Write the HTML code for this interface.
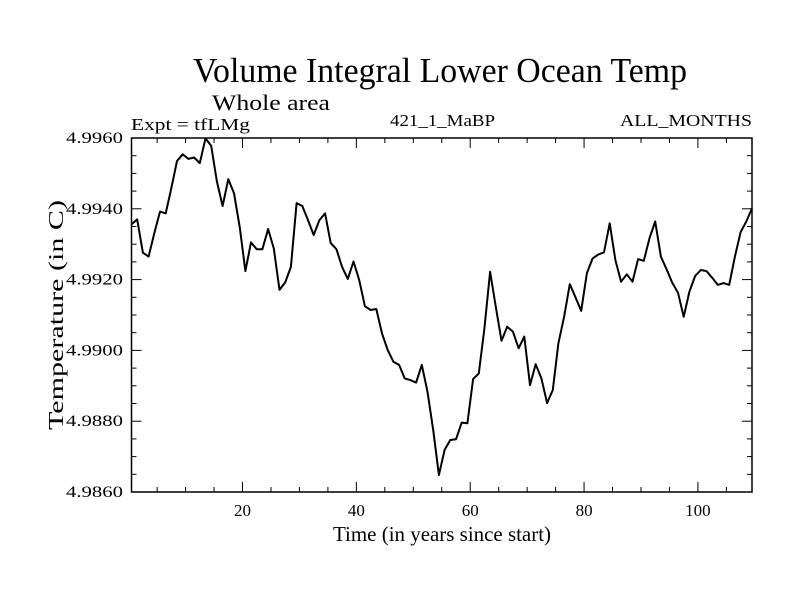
<!DOCTYPE html>
<html><head><meta charset="utf-8"><style>
html,body{margin:0;padding:0;background:#fff;}
svg{display:block;font-family:"Liberation Serif",serif;}
</style></head><body>
<svg id="chart" width="800" height="600" viewBox="0 0 800 600" xmlns="http://www.w3.org/2000/svg">
<text x="440" y="82" font-size="35" text-anchor="middle" textLength="494" lengthAdjust="spacingAndGlyphs">Volume Integral Lower Ocean Temp</text>
<text x="212" y="110" font-size="22" textLength="118" lengthAdjust="spacingAndGlyphs">Whole area</text>
<text x="131" y="130" font-size="17" textLength="119" lengthAdjust="spacingAndGlyphs">Expt = tfLMg</text>
<text x="390" y="126" font-size="17" textLength="105" lengthAdjust="spacingAndGlyphs">421_1_MaBP</text>
<text x="752" y="126" font-size="17" text-anchor="end" textLength="132" lengthAdjust="spacingAndGlyphs">ALL_MONTHS</text>
<text x="442" y="541" font-size="21" text-anchor="middle" textLength="218" lengthAdjust="spacingAndGlyphs">Time (in years since start)</text>
<text transform="translate(63,315) rotate(-90)" font-size="21" text-anchor="middle" textLength="230" lengthAdjust="spacingAndGlyphs">Temperature (in C)</text>
<g id="axes"></g>
<g id="series"></g>
</svg>
<script>
const yTickValues=[4.986,4.988,4.990,4.992,4.994,4.996];
const yTickLabels=["4.9860","4.9880","4.9900","4.9920","4.9940","4.9960"];
const xTickValues=[20,40,60,80,100];
const xTickLabels=["20","40","60","80","100"];
const temps=[4.99356,4.99370,4.99276,4.99265,4.99331,4.99392,4.99387,4.99458,4.99535,4.99554,
4.99541,4.99545,4.99529,4.99599,4.99578,4.99477,4.99408,4.99484,4.99444,4.99349,
4.99224,4.99305,4.99286,4.99286,4.99343,4.99288,4.99171,4.99192,4.99236,4.99416,
4.99408,4.99368,4.99326,4.99368,4.99387,4.99303,4.99286,
4.99236,4.99202,4.99251,4.99199,4.99125,4.99114,4.99117,4.99048,4.99001,4.98968,
4.98959,4.98921,4.98916,4.98909,4.98959,4.98883,4.98775,4.98648,4.98719,4.98747,
4.98749,4.98796,4.98794,4.98919,4.98935,4.99062,4.99222,4.99123,4.99027,4.99067,
4.99053,4.99006,4.99039,4.98902,4.98961,
4.98921,4.98851,4.98888,4.99020,4.99095,4.99187,4.99150,4.99112,4.99218,4.99260,
4.99271,4.99277,4.99359,4.99255,4.99194,4.99215,4.99194,4.99258,4.99253,4.99317,
4.99364,4.99265,4.99229,4.99191,4.99163,4.99095,4.99166,4.99210,4.99227,4.99224,
4.99205,4.99185,4.99190,4.99185,4.99265,4.99334,4.99364,4.99401];
const X0=131.5,X1=752,Y0=138,Y1=492;
const xMin=0.5,xMax=109.5,yMin=4.986,yMax=4.996;
function xs(t){return X0+(t-xMin)/(xMax-xMin)*(X1-X0);}
function ys(v){return Y1-(v-yMin)/(yMax-yMin)*(Y1-Y0);}
const NS="http://www.w3.org/2000/svg";
const axes=document.getElementById('axes');
function mk(tag,attrs,parent){const e=document.createElementNS(NS,tag);for(const k in attrs)e.setAttribute(k,attrs[k]);parent.appendChild(e);return e;}
const frame=mk('rect',{x:X0,y:Y0,width:X1-X0,height:Y1-Y0,fill:'none',stroke:'#000','stroke-width':1.5},axes);


// x minor/major ticks
for(let t=5;t<=105;t+=5){
  const major=t%20===0;const L=major?10:5;const x=xs(t);
  const tb=mk('line',{x1:x,x2:x,y1:Y1,y2:Y1-L,stroke:'#000','stroke-width':1},axes);
  
  
  const tt=mk('line',{x1:x,x2:x,y1:Y0,y2:Y0+L,stroke:'#000','stroke-width':1},axes);
  
  
}
xTickValues.forEach((v,i)=>{
  const t=mk('text',{x:xs(v),y:Y1+24,'font-size':17,'text-anchor':'middle'},axes);
  t.textContent=xTickLabels[i];
  
  
});
for(let k=0;k<=20;k++){
  const v=yMin+k*0.0005;const major=k%4===0;const L=major?10:5;const y=ys(v);
  const tl=mk('line',{x1:X0,x2:X0+L,y1:y,y2:y,stroke:'#000','stroke-width':1},axes);
  
  
  const tr=mk('line',{x1:X1,x2:X1-L,y1:y,y2:y,stroke:'#000','stroke-width':1},axes);
  
  
}
yTickValues.forEach((v,i)=>{
  const t=mk('text',{x:123,y:ys(v)+5,'font-size':16,'text-anchor':'end',textLength:57,lengthAdjust:'spacingAndGlyphs'},axes);
  t.textContent=yTickLabels[i];
  
  
});
const pts=temps.map((v,i)=>xs(xMin+i).toFixed(1)+','+ys(v).toFixed(1)).join(' ');
const line=mk('polyline',{points:pts,fill:'none',stroke:'#000','stroke-width':2,'stroke-linejoin':'round'},document.getElementById('series'));


</script>
</body></html>
